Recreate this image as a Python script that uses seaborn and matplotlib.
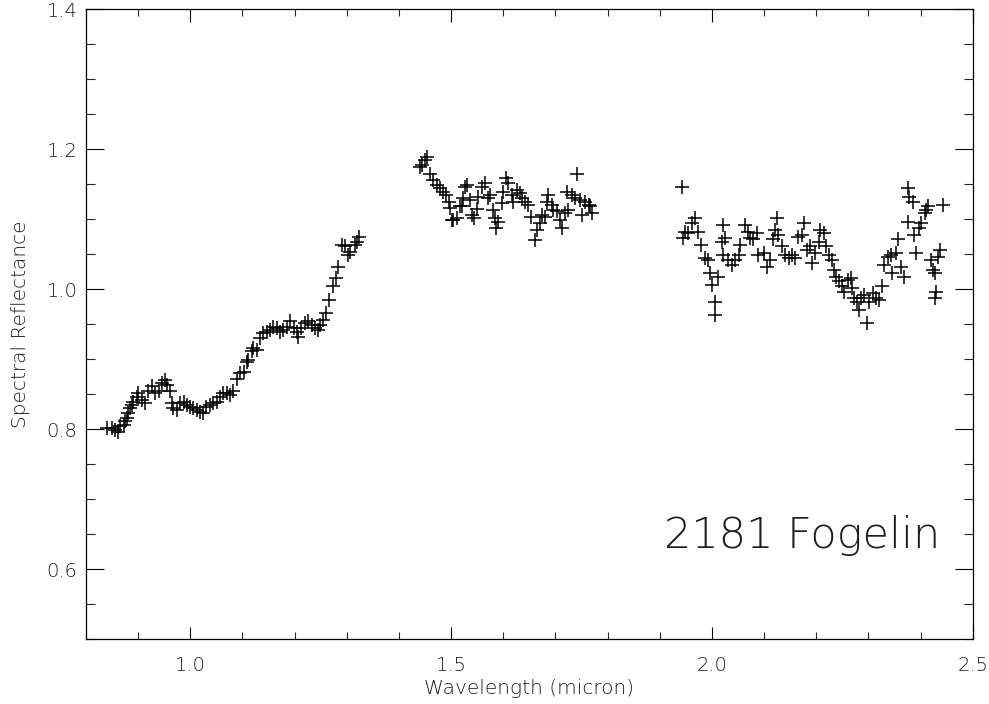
import numpy as np
import pandas as pd
import matplotlib
matplotlib.use("Agg")
import matplotlib.pyplot as plt
import seaborn as sns
from matplotlib.ticker import MultipleLocator

# ---- data ----
wl_seg1 = [0.840, 0.849, 0.856, 0.862, 0.865, 0.872, 0.875, 0.878, 0.881, 0.884,
           0.888, 0.891, 0.897, 0.900, 0.907, 0.913, 0.919, 0.926, 0.932, 0.939,
           0.945, 0.951, 0.955, 0.961, 0.964, 0.967, 0.974, 0.980, 0.987, 0.993,
           1.000, 1.006, 1.012, 1.019, 1.025, 1.031, 1.038, 1.044, 1.051, 1.057,
           1.063, 1.070, 1.076, 1.082, 1.089, 1.095, 1.102, 1.108, 1.111, 1.118,
           1.121, 1.127, 1.134, 1.140, 1.147, 1.153, 1.159, 1.166, 1.172, 1.178,
           1.185, 1.191, 1.198, 1.204, 1.207, 1.213, 1.220, 1.226, 1.233, 1.239,
           1.245, 1.249, 1.255, 1.260, 1.266, 1.273, 1.279, 1.284, 1.290, 1.297,
           1.303, 1.306, 1.316, 1.319, 1.324]
refl_seg1 = [0.801, 0.801, 0.799, 0.796, 0.804, 0.806, 0.811, 0.816, 0.823, 0.830,
             0.835, 0.839, 0.846, 0.851, 0.842, 0.837, 0.854, 0.861, 0.851, 0.854,
             0.866, 0.870, 0.863, 0.854, 0.837, 0.830, 0.827, 0.837, 0.839, 0.835,
             0.832, 0.830, 0.827, 0.825, 0.823, 0.832, 0.835, 0.837, 0.839, 0.846,
             0.851, 0.851, 0.849, 0.854, 0.872, 0.880, 0.881, 0.896, 0.899, 0.911,
             0.916, 0.913, 0.930, 0.937, 0.939, 0.942, 0.946, 0.944, 0.939, 0.942,
             0.946, 0.954, 0.944, 0.939, 0.932, 0.944, 0.951, 0.954, 0.949, 0.944,
             0.942, 0.949, 0.956, 0.966, 0.984, 1.004, 1.016, 1.032, 1.063, 1.061,
             1.049, 1.053, 1.063, 1.068, 1.075]

wl_seg2 = [1.440, 1.444, 1.450, 1.453, 1.459, 1.466, 1.472, 1.479, 1.485, 1.491,
           1.495, 1.498, 1.501, 1.504, 1.511, 1.517, 1.520, 1.523, 1.527, 1.530,
           1.536, 1.540, 1.543, 1.549, 1.552, 1.559, 1.565, 1.571, 1.574, 1.581,
           1.584, 1.587, 1.590, 1.597, 1.600, 1.606, 1.609, 1.616, 1.619, 1.626,
           1.632, 1.635, 1.642, 1.648, 1.654, 1.661, 1.664, 1.671, 1.674, 1.680,
           1.683, 1.686, 1.693, 1.696, 1.703, 1.709, 1.712, 1.719, 1.722, 1.725,
           1.732, 1.738, 1.741, 1.748, 1.751, 1.757, 1.764, 1.766, 1.770]
refl_seg2 = [1.175, 1.177, 1.184, 1.189, 1.165, 1.156, 1.149, 1.144, 1.139, 1.134,
             1.125, 1.116, 1.099, 1.099, 1.101, 1.118, 1.118, 1.130, 1.146, 1.149,
             1.127, 1.106, 1.101, 1.115, 1.132, 1.146, 1.151, 1.130, 1.134, 1.113,
             1.101, 1.087, 1.096, 1.123, 1.139, 1.158, 1.151, 1.134, 1.125, 1.142,
             1.137, 1.130, 1.125, 1.120, 1.103, 1.070, 1.084, 1.094, 1.106, 1.103,
             1.125, 1.134, 1.120, 1.113, 1.111, 1.099, 1.087, 1.108, 1.139, 1.113,
             1.134, 1.130, 1.165, 1.127, 1.106, 1.125, 1.120, 1.118, 1.108]

wl_seg3 = [1.942, 1.945, 1.948, 1.955, 1.962, 1.968, 1.974, 1.980, 1.987, 1.993,
           1.996, 2.000, 2.006, 2.006, 2.012, 2.019, 2.022, 2.022, 2.025, 2.031,
           2.038, 2.044, 2.051, 2.054, 2.063, 2.070, 2.073, 2.079, 2.086, 2.089,
           2.099, 2.105, 2.111, 2.118, 2.121, 2.124, 2.127, 2.134, 2.141, 2.147,
           2.153, 2.160, 2.166, 2.173, 2.176, 2.182, 2.189, 2.192, 2.198, 2.205,
           2.208, 2.214, 2.218, 2.224, 2.231, 2.234, 2.237, 2.243, 2.250, 2.253,
           2.260, 2.266, 2.269, 2.273, 2.279, 2.282, 2.285, 2.292, 2.298, 2.301,
           2.308, 2.314, 2.321, 2.327, 2.330, 2.337, 2.343, 2.346, 2.353, 2.356,
           2.362, 2.369, 2.375, 2.375, 2.378, 2.385, 2.388, 2.391, 2.398, 2.401,
           2.408, 2.411, 2.414, 2.421, 2.424, 2.427, 2.427, 2.430, 2.433, 2.437,
           2.444]
refl_seg3 = [1.146, 1.073, 1.082, 1.080, 1.094, 1.101, 1.082, 1.063, 1.044, 1.042,
             1.023, 1.006, 0.982, 0.963, 1.018, 1.068, 1.092, 1.049, 1.073, 1.042,
             1.034, 1.042, 1.049, 1.063, 1.092, 1.082, 1.073, 1.071, 1.080, 1.049,
             1.051, 1.032, 1.042, 1.071, 1.084, 1.101, 1.077, 1.061, 1.049, 1.044,
             1.049, 1.044, 1.075, 1.077, 1.094, 1.056, 1.061, 1.037, 1.051, 1.068,
             1.084, 1.080, 1.061, 1.049, 1.042, 1.027, 1.018, 1.011, 1.004, 0.996,
             1.013, 1.016, 1.001, 0.987, 0.982, 0.970, 0.987, 0.992, 0.951, 0.982,
             0.994, 0.987, 0.985, 1.004, 1.034, 1.046, 1.049, 1.023, 1.051, 1.071,
             1.032, 1.018, 1.096, 1.144, 1.132, 1.125, 1.077, 1.051, 1.087, 1.094,
             1.108, 1.113, 1.118, 1.042, 1.027, 1.023, 0.987, 0.996, 1.046, 1.056,
             1.120]

x_ticks = [1.0, 1.5, 2.0, 2.5]
y_ticks = [0.6, 0.8, 1.0, 1.2, 1.4]
x_label = "Wavelength (micron)"
y_label = "Spectral Reflectance"
object_name = "2181 Fogelin"

df = pd.DataFrame({
    "wavelength": wl_seg1 + wl_seg2 + wl_seg3,
    "reflectance": refl_seg1 + refl_seg2 + refl_seg3,
})

# ---- style ----
sns.set_style("ticks")
plt.rcParams["font.family"] = ["DejaVu Sans"]
txt_color = "#1e1e1e"
light = "light"

fig = plt.figure(figsize=(9.89, 7.04), dpi=100)
ax = fig.add_axes([86 / 989, 1 - 639.3 / 704, (972.7 - 86) / 989, (639.3 - 9) / 704])

sns.scatterplot(data=df, x="wavelength", y="reflectance", marker="+",
                s=100, linewidth=1.1, color="black", ax=ax, legend=False)

ax.set_xlim(0.8, 2.5)
ax.set_ylim(0.5, 1.4)
ax.set_xticks(x_ticks)
ax.set_yticks(y_ticks)
ax.set_xticklabels([f"{v:.1f}" for v in x_ticks])
ax.set_yticklabels([f"{v:.1f}" for v in y_ticks])
ax.xaxis.set_minor_locator(MultipleLocator(0.1))
ax.yaxis.set_minor_locator(MultipleLocator(0.05))

ax.tick_params(axis="x", which="major", direction="in", length=9, width=0.8,
               top=True, bottom=True, labelsize=14, pad=12, colors="black",
               labelcolor=txt_color)
ax.tick_params(axis="x", which="minor", direction="in", length=4.7, width=0.8,
               top=True, bottom=True)
ax.tick_params(axis="y", which="major", direction="in", length=13, width=0.8,
               left=True, right=True, labelsize=14, pad=6, colors="black",
               labelcolor=txt_color)
ax.tick_params(axis="y", which="minor", direction="in", length=6.5, width=0.8,
               left=True, right=True)
for lab in ax.get_xticklabels() + ax.get_yticklabels():
    lab.set_fontweight(light)

for sp in ax.spines.values():
    sp.set_visible(True)
    sp.set_linewidth(0.9)
    sp.set_color("black")

ax.set_xlabel(x_label, fontsize=14.5, color=txt_color, fontweight=light, labelpad=3)
ax.set_ylabel(y_label, fontsize=14.5, color=txt_color, fontweight=light, labelpad=12)

ax.text(2.437, 0.63, object_name, ha="right", va="baseline", fontsize=31,
        fontweight=light, color=txt_color)

fig.savefig("out.png", dpi=100)
